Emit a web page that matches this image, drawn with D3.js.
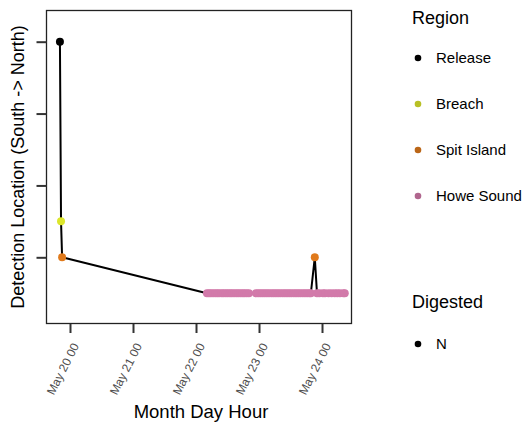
<!DOCTYPE html>
<html>
<head>
<meta charset="utf-8">
<script src="https://cdn.jsdelivr.net/npm/d3@7"></script>
<style>
  body { margin: 0; background: #fff; }
  svg { display: block; font-family: "Liberation Sans", Arial, sans-serif; }
</style>
</head>
<body>
<svg id="chart" width="524" height="427"></svg>
<script>
// Regions ordered south -> north, with their plotted location and colour
const regions = ["Release", "Breach", "Spit Island", "Howe Sound"];
const regionLocation = [4, 1.5, 1, 0.5];
const regionColors = ["#000000", "#DCE62C", "#E07A1C", "#D27AAA"];

// Detection history of the tag (time, region), in time order
const detectionTimes = [
  "2019-05-19 20:10", "2019-05-19 20:35", "2019-05-19 21:00",
  "2019-05-22 04:10", "2019-05-22 04:55", "2019-05-22 05:40", "2019-05-22 06:30",
  "2019-05-22 07:20", "2019-05-22 08:05", "2019-05-22 08:50", "2019-05-22 09:45",
  "2019-05-22 10:30", "2019-05-22 11:20", "2019-05-22 12:05", "2019-05-22 12:55",
  "2019-05-22 13:40", "2019-05-22 14:30", "2019-05-22 15:20", "2019-05-22 16:05",
  "2019-05-22 16:55", "2019-05-22 17:45", "2019-05-22 18:30", "2019-05-22 19:20",
  "2019-05-22 20:10",
  "2019-05-22 22:50", "2019-05-22 23:40", "2019-05-23 00:30", "2019-05-23 01:20",
  "2019-05-23 02:10", "2019-05-23 03:00", "2019-05-23 03:50", "2019-05-23 04:45",
  "2019-05-23 05:35", "2019-05-23 06:25", "2019-05-23 07:15", "2019-05-23 08:05",
  "2019-05-23 09:00", "2019-05-23 09:50", "2019-05-23 10:40", "2019-05-23 11:30",
  "2019-05-23 12:20", "2019-05-23 13:15", "2019-05-23 14:05", "2019-05-23 14:55",
  "2019-05-23 15:45", "2019-05-23 16:40", "2019-05-23 17:30", "2019-05-23 18:20",
  "2019-05-23 19:10", "2019-05-23 19:45",
  "2019-05-23 21:15",
  "2019-05-23 22:05", "2019-05-23 23:00", "2019-05-24 00:20", "2019-05-24 01:10",
  "2019-05-24 02:30", "2019-05-24 03:40", "2019-05-24 04:50", "2019-05-24 05:50",
  "2019-05-24 06:50", "2019-05-24 08:10", "2019-05-24 08:40"
];
const detectionRegions = [
  "Release", "Breach", "Spit Island",
  "Howe Sound", "Howe Sound", "Howe Sound", "Howe Sound",
  "Howe Sound", "Howe Sound", "Howe Sound", "Howe Sound",
  "Howe Sound", "Howe Sound", "Howe Sound", "Howe Sound",
  "Howe Sound", "Howe Sound", "Howe Sound", "Howe Sound",
  "Howe Sound", "Howe Sound", "Howe Sound", "Howe Sound",
  "Howe Sound",
  "Howe Sound", "Howe Sound", "Howe Sound", "Howe Sound",
  "Howe Sound", "Howe Sound", "Howe Sound", "Howe Sound",
  "Howe Sound", "Howe Sound", "Howe Sound", "Howe Sound",
  "Howe Sound", "Howe Sound", "Howe Sound", "Howe Sound",
  "Howe Sound", "Howe Sound", "Howe Sound", "Howe Sound",
  "Howe Sound", "Howe Sound", "Howe Sound", "Howe Sound",
  "Howe Sound", "Howe Sound",
  "Spit Island",
  "Howe Sound", "Howe Sound", "Howe Sound", "Howe Sound",
  "Howe Sound", "Howe Sound", "Howe Sound", "Howe Sound",
  "Howe Sound", "Howe Sound", "Howe Sound"
];

// Axis ticks
const xTickTimes = ["2019-05-20 00:00", "2019-05-21 00:00", "2019-05-22 00:00", "2019-05-23 00:00", "2019-05-24 00:00"];
const yTickValues = [1, 2, 3, 4];
const yTickLabels = ["", "", "", ""];

// Second legend
const digestedLevels = ["N"];

const parse = d3.timeParse("%Y-%m-%d %H:%M");
const locOf = new Map(regions.map((r, i) => [r, regionLocation[i]]));
const color = d3.scaleOrdinal().domain(regions).range(regionColors);

const data = detectionTimes.map((t, i) => ({
  time: parse(t),
  region: detectionRegions[i],
  loc: locOf.get(detectionRegions[i])
}));

const svg = d3.select("#chart");
const panel = { left: 46.5, right: 351.5, top: 10.5, bottom: 323.5 };

const x = d3.scaleTime()
  .domain([parse("2019-05-19 15:03"), parse("2019-05-24 11:14")])
  .range([panel.left, panel.right]);
const y = d3.scaleLinear()
  .domain([0.079, 4.434])
  .range([panel.bottom, panel.top]);

// Panel border
svg.append("rect")
  .attr("x", panel.left).attr("y", panel.top)
  .attr("width", panel.right - panel.left)
  .attr("height", panel.bottom - panel.top)
  .attr("fill", "#fff")
  .attr("stroke", "#222").attr("stroke-width", 1.3);

// Track through the detections
const line = d3.line().x(d => x(d.time)).y(d => y(d.loc));
svg.append("path")
  .datum(data)
  .attr("d", line)
  .attr("fill", "none")
  .attr("stroke", "#000")
  .attr("stroke-width", 2)
  .attr("stroke-linejoin", "round");

// Detection points
svg.append("g").selectAll("circle")
  .data(data)
  .join("circle")
  .attr("cx", d => x(d.time))
  .attr("cy", d => y(d.loc))
  .attr("r", 4)
  .attr("fill", d => color(d.region));

// X axis
const fmt = d3.timeFormat("%b %d %H");
const xAxis = d3.axisBottom(x)
  .tickValues(xTickTimes.map(parse))
  .tickSize(9)
  .tickPadding(3)
  .tickFormat(fmt);
const gx = svg.append("g")
  .attr("transform", `translate(0,${panel.bottom + 0.5})`)
  .call(xAxis);
gx.select(".domain").remove();
gx.selectAll(".tick line").attr("stroke", "#333").attr("stroke-width", 2);
gx.selectAll(".tick text")
  .attr("fill", "#4D4D4D")
  .attr("font-size", "12px")
  .attr("text-anchor", "end")
  .attr("y", 0).attr("dy", "0.35em")
  .attr("transform", "translate(5,20) rotate(-63)");

// Y axis (locations unlabelled)
const yAxis = d3.axisLeft(y)
  .tickValues(yTickValues)
  .tickSize(10)
  .tickFormat((d, i) => yTickLabels[i]);
const gy = svg.append("g")
  .attr("transform", `translate(${panel.left},0)`)
  .call(yAxis);
gy.select(".domain").remove();
gy.selectAll(".tick line").attr("stroke", "#333").attr("stroke-width", 2);

// Axis titles
svg.append("text")
  .attr("x", (panel.left + panel.right) / 2 + 2)
  .attr("y", 418)
  .attr("text-anchor", "middle")
  .attr("font-size", "18.5px")
  .attr("fill", "#000")
  .text("Month Day Hour");
svg.append("text")
  .attr("transform", `translate(24,${(panel.top + panel.bottom) / 2}) rotate(-90)`)
  .attr("text-anchor", "middle")
  .attr("font-size", "18px")
  .attr("fill", "#000")
  .text("Detection Location (South -> North)");

// Region legend
const legend = svg.append("g");
legend.append("text")
  .attr("x", 412).attr("y", 24)
  .attr("font-size", "18px").attr("fill", "#000")
  .text("Region");
const items = legend.selectAll("g.item")
  .data(regions)
  .join("g")
  .attr("class", "item")
  .attr("transform", (d, i) => `translate(418,${58 + i * 46})`);
items.append("circle")
  .attr("r", 3.3)
  .attr("fill", d => d === "Release" ? "#000" : d3.color(color(d)).darker(0.5));
items.append("text")
  .attr("x", 18).attr("dy", "0.35em")
  .attr("font-size", "15px").attr("fill", "#000")
  .text(d => d);

// Digested legend
const legend2 = svg.append("g");
legend2.append("text")
  .attr("x", 412).attr("y", 308)
  .attr("font-size", "18px").attr("fill", "#000")
  .text("Digested");
const items2 = legend2.selectAll("g.item")
  .data(digestedLevels)
  .join("g")
  .attr("class", "item")
  .attr("transform", (d, i) => `translate(418,${344 + i * 46})`);
items2.append("circle").attr("r", 3.3).attr("fill", "#000");
items2.append("text")
  .attr("x", 18).attr("dy", "0.35em")
  .attr("font-size", "15px").attr("fill", "#000")
  .text(d => d);
</script>
</body>
</html>
